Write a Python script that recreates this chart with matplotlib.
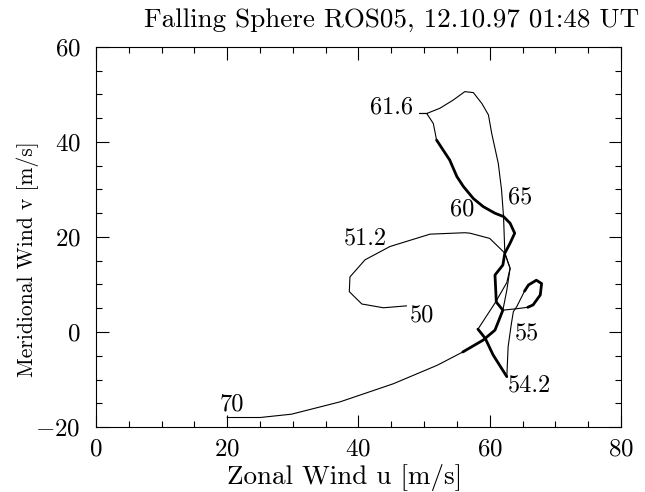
import matplotlib
matplotlib.use("Agg")
import matplotlib.pyplot as plt
from matplotlib.ticker import MultipleLocator

plt.rcParams['font.family'] = ['cmr10', 'DejaVu Serif']
plt.rcParams['mathtext.fontset'] = 'cm'
plt.rcParams['axes.formatter.use_mathtext'] = True

# ---- data ----
# thin: 70 km start to where the line thickens
seg1_u = [20.0, 25.0, 29.8, 37.2, 45.3, 52.0, 55.9]
seg1_v = [-18.0, -18.0, -17.3, -14.7, -10.9, -7.0, -4.2]
# thick: up through the crossing to 61.6 km
seg2_u = [55.9, 59.0, 60.8, 62.0, 61.0, 60.8, 62.0, 62.3, 63.1, 63.8, 63.1, 62.1,
          60.8, 59.0, 57.5, 56.0, 55.0, 53.9, 52.9, 51.9]
seg2_v = [-4.2, -1.7, 0.4, 4.6, 6.3, 12.0, 14.1, 16.6, 18.7, 20.8, 22.9, 24.3,
          25.0, 26.4, 28.1, 30.6, 32.7, 36.2, 38.3, 40.4]
# thin: short piece to the 61.6 km vertex, loop over the top and down past 65 km
seg3_u = [51.9, 51.4, 50.4, 49.3, 50.4, 52.4, 54.4, 56.2, 57.5, 58.8, 59.8, 60.3,
          61.3, 61.8, 62.1, 62.3, 63.1, 62.6, 60.8, 58.2]
seg3_v = [40.4, 43.9, 46.0, 46.0, 46.0, 47.1, 48.8, 50.6, 50.4, 48.1, 45.7, 41.8,
          35.5, 29.9, 24.3, 16.6, 13.4, 10.4, 6.1, 0.6]
# thick: down to 54.2 km
seg4_u = [58.2, 59.3, 60.5, 62.6]
seg4_v = [0.6, -1.3, -4.8, -9.4]
# thin: up from 54.2 km to the small loop
seg5_u = [62.6, 62.8, 63.3, 63.6, 64.1, 65.3]
seg5_v = [-9.4, -3.1, 1.8, 4.3, 5.3, 8.6]
# thick: right side of the small loop
seg6_u = [65.3, 65.9, 67.1, 67.9, 67.7, 66.6, 65.8]
seg6_v = [8.6, 9.9, 10.9, 10.2, 7.8, 5.7, 5.2]
# thin: back across and the 51.2 km loop to 50 km
seg7_u = [65.8, 64.1, 62.0, 62.6, 63.1, 62.3, 60.0, 57.0, 56.2, 50.9, 44.8, 41.0,
          38.7, 38.6, 40.5, 43.8, 47.3]
seg7_v = [5.2, 4.9, 4.6, 8.8, 13.4, 16.6, 19.7, 20.8, 20.9, 20.6, 18.0, 15.2,
          11.6, 8.5, 5.9, 5.1, 5.5]

label_text = ["70", "65", "61.6", "60", "55", "54.2", "51.2", "50"]
label_u = [20.7, 64.6, 45.1, 55.8, 65.7, 66.0, 41.1, 49.7]
label_v = [-15.2, 28.4, 47.2, 25.7, -0.6, -11.2, 19.6, 3.4]

# ---- figure ----
fig = plt.figure(figsize=(6.45, 4.92), dpi=100)
ax = fig.add_axes([0.1488, 0.1321, 0.9628 - 0.1488, 0.9045 - 0.1321])

thin = dict(color='black', lw=0.8, solid_joinstyle='round')
thick = dict(color='black', lw=2.0, solid_joinstyle='round', solid_capstyle='round')
ax.plot(seg1_u, seg1_v, **thin)
ax.plot(seg3_u, seg3_v, **thin)
ax.plot(seg5_u, seg5_v, **thin)
ax.plot(seg7_u, seg7_v, **thin)
ax.plot(seg2_u, seg2_v, **thick)
ax.plot(seg4_u, seg4_v, **thick)
ax.plot(seg6_u, seg6_v, **thick)

for t, x, y in zip(label_text, label_u, label_v):
    ax.text(x, y, t, ha='center', va='center', fontsize=17.5)

ax.set_xlim(0, 80)
ax.set_ylim(-20, 60)
ax.xaxis.set_major_locator(MultipleLocator(20))
ax.xaxis.set_minor_locator(MultipleLocator(5))
ax.yaxis.set_major_locator(MultipleLocator(20))
ax.yaxis.set_minor_locator(MultipleLocator(5))
ax.tick_params(which='both', direction='in', top=True, right=True, width=0.8,
               labelsize=18)
ax.tick_params(which='major', length=9)
ax.tick_params(axis='x', which='major', pad=8)
ax.tick_params(axis='y', which='major', pad=11)
ax.tick_params(which='minor', length=4.5)
for s in ax.spines.values():
    s.set_linewidth(0.8)

ax.set_xlabel('Zonal Wind u [m/s]', fontsize=19.5)
ax.xaxis.set_label_coords((345 - 96) / 525, (427 - 477) / 380)
ax.xaxis.label.set_va('center')
ax.set_ylabel('Meridional Wind v [m/s]', fontsize=15.5)
ax.yaxis.set_label_coords((28 - 96) / 525, (427 - 259) / 380)
ax.yaxis.label.set_va('center')
fig.text(392 / 645, 1 - 20 / 492, 'Falling Sphere ROS05, 12.10.97 01:48 UT',
         fontsize=19.5, ha='center', va='center')

fig.savefig('out.png', dpi=100)
